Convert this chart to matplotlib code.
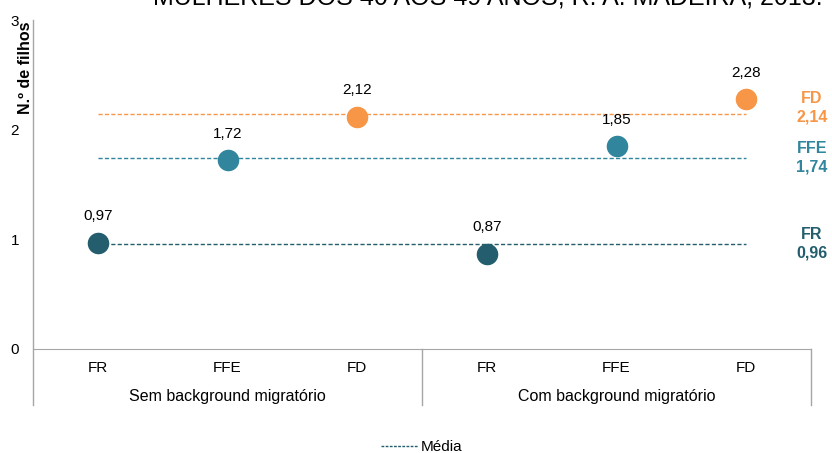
import matplotlib.pyplot as plt
from matplotlib.lines import Line2D
import matplotlib.transforms as mtransforms

plt.rcParams['font.family'] = ['Liberation Sans', 'DejaVu Sans']

groups = ["Sem background migratório", "Com background migratório"]
categories = ["FR", "FFE", "FD", "FR", "FFE", "FD"]
values = [0.97, 1.72, 2.12, 0.87, 1.85, 2.28]
series_names = ["FR", "FFE", "FD"]
means = [0.96, 1.74, 2.14]
colors = {"FR": "#245e6e", "FFE": "#31859c", "FD": "#f79646"}


def fmt(v):
    return ("%.2f" % v).replace(".", ",")


def showdata():
    fig = plt.figure(figsize=(8.32, 4.53), dpi=100)
    ax = fig.add_axes([33 / 832, 1 - 349 / 453, 778 / 832, 329 / 453])
    x = list(range(len(categories)))

    # mean lines + labels on the right
    right = mtransforms.blended_transform_factory(fig.transFigure, ax.transData)
    label_shift = {"FR": 0, "FFE": 0, "FD": 5}
    for name, m in zip(series_names, means):
        ax.hlines(m, x[0], x[-1], colors=colors[name], linestyles=(0, (3, 1.6)),
                  linewidth=1.0, zorder=2)
        ax.annotate("%s\n%s" % (name, fmt(m)), (812 / 832, m), xycoords=right,
                    xytext=(0, label_shift[name]), textcoords="offset points",
                    ha="center", va="center", fontsize=11.5, fontweight="bold",
                    color=colors[name], linespacing=1.3, annotation_clip=False)

    # points
    for xi, cat, v in zip(x, categories, values):
        ax.plot(xi, v, "o", color=colors[cat], markersize=14.5, zorder=3)
        ax.annotate(fmt(v), (xi, v), xytext=(0, 14), textcoords="offset points",
                    ha="center", va="bottom", fontsize=11)

    ax.set_xlim(-0.5, 5.5)
    ax.set_ylim(0, 3)
    ax.set_yticks([0, 1, 2, 3])
    ax.set_xticks(x)
    ax.set_xticklabels(categories)
    ax.tick_params(axis="both", length=0, labelsize=11)
    ax.tick_params(axis="x", pad=9)
    ax.tick_params(axis="y", pad=10)
    for s in ["top", "right", "left"]:
        ax.spines[s].set_visible(False)
    ax.spines["bottom"].set_color("#a6a6a6")

    # group separators and left axis line
    tr = mtransforms.blended_transform_factory(ax.transData, ax.transAxes)
    low = -(405 - 349) / 329
    for xs in [-0.5, 2.5, 5.5]:
        top = 1.0 if xs == -0.5 else 0.0
        ax.plot([xs, xs], [low, top], color="#a6a6a6", linewidth=1.0,
                transform=tr, clip_on=False)
    for gi, g in enumerate(groups):
        ax.text(1 + 3 * gi, -(396 - 349) / 329, g, transform=tr, ha="center",
                va="center", fontsize=11.5)

    fig.text(26 / 832, 1 - 22 / 453, "N.º de filhos", rotation=90, ha="center",
             va="top", fontsize=11.5, fontweight="bold")

    fig.text(488 / 832, 1 - 4.5 / 453, "MULHERES DOS 40 AOS 49 ANOS, R. A. MADEIRA, 2013.",
             ha="center", va="baseline", fontsize=18)

    handle = Line2D([], [], color=colors["FR"], linestyle=(0, (2, 1)), linewidth=1.0)
    fig.legend([handle], ["Média"], loc="center", bbox_to_anchor=(422 / 832, 1 - 447 / 453),
               frameon=False, fontsize=11, handlelength=2.4, handletextpad=0.2)

    fig.savefig("out.png", dpi=100)


if __name__ == "__main__":
    showdata()
